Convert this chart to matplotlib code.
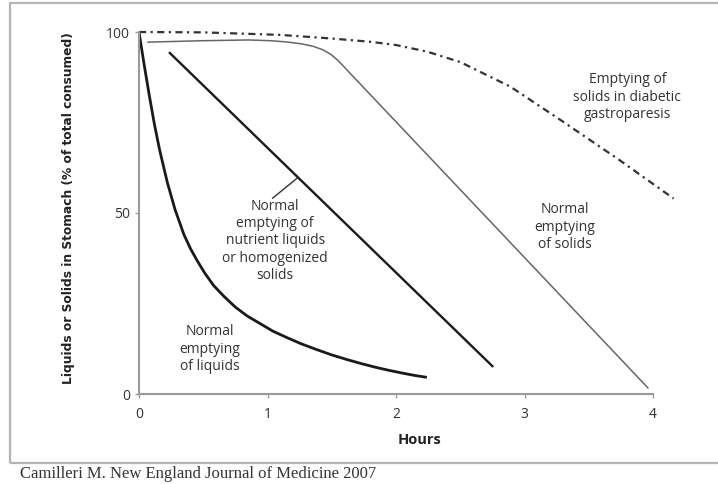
import matplotlib
matplotlib.use("Agg")
import matplotlib.pyplot as plt
from matplotlib.patches import Rectangle

# hours / percent of meal still in the stomach
liq_h = [0, 0.04, 0.08, 0.12, 0.16, 0.22, 0.28, 0.35, 0.40, 0.45, 0.51, 0.58, 0.66, 0.75, 0.84,
         0.94, 1.04, 1.15, 1.26, 1.38, 1.50, 1.62, 1.73, 1.85, 1.95, 2.06, 2.15, 2.24]
liq_y = [100, 91, 82.5, 74.5, 67.5, 58.5, 51, 44, 40.2, 37, 33.5, 30, 27, 24, 21.6,
         19.5, 17.4, 15.6, 13.9, 12.3, 10.8, 9.5, 8.4, 7.3, 6.5, 5.7, 5.1, 4.6]

nutr_h = [0.24, 2.75]
nutr_y = [94.2, 7.7]

sol_h = [0.07, 0.5, 0.85, 1.02, 1.15, 1.27, 1.36, 1.43, 1.49, 1.54, 1.59, 1.64, 3.96]
sol_y = [97.2, 97.6, 97.8, 97.6, 97.25, 96.7, 96.0, 95.1, 93.9, 92.4, 90.6, 88.7, 1.7]

diab_h = [0, 0.5, 1.1, 1.5, 1.8, 2.0, 2.24, 2.5, 2.89, 3.28, 3.74, 4.16]
diab_y = [100, 99.9, 99.2, 98.2, 97.3, 96.4, 94.6, 91.7, 84.9, 75.7, 64.6, 54.0]

xticks = [0, 1, 2, 3, 4]
yticks = [0, 50, 100]

W, H = 718, 484
fig = plt.figure(figsize=(W / 100, H / 100), dpi=100)

# grey frame around the panel
fig.patches.append(Rectangle((10 / W, 1 - 463 / H), 720 / W, 460 / H, transform=fig.transFigure,
                             fill=False, edgecolor="#b5b5b5", linewidth=1.6))

x0, x4 = 139, 653
y0, y100 = 394, 32
ppx = (x4 - x0) / 4
ppy = (y0 - y100) / 100
left, right, top = 139, 700, 22
ax = fig.add_axes([left / W, 1 - y0 / H, (right - left) / W, (y0 - top) / H])
ax.set_xlim(0, (right - left) / ppx)
ax.set_ylim(0, (y0 - top) / ppy)

gill = ["Open Sans", "DejaVu Sans"]
txt = "#333333"

ax.plot(liq_h, liq_y, color="#1a1a1a", lw=2.0, solid_capstyle="butt", solid_joinstyle="round")
ax.plot(nutr_h, nutr_y, color="#1a1a1a", lw=1.7)
ax.plot(sol_h, sol_y, color="#666666", lw=1.1, solid_joinstyle="round")
ax.plot(diab_h, diab_y, color="#333333", lw=1.6, dashes=[3.2, 2.0, 1.0, 2.0])

# leader line to the nutrient label
ax.plot([1.04, 1.23], [54.1, 59.6], color="#333333", lw=1.0)

for s in ["top", "right"]:
    ax.spines[s].set_visible(False)
ax.spines["left"].set_bounds(0, 100)
ax.spines["bottom"].set_bounds(0, 4)
for s in ["left", "bottom"]:
    ax.spines[s].set_color("#9a9a9a")
    ax.spines[s].set_linewidth(1.5)
ax.set_xticks(xticks)
ax.set_yticks(yticks)
ax.tick_params(colors="#9a9a9a", length=3, width=1, labelcolor=txt, labelsize=10)
ax.tick_params(axis="x", pad=6)
for lab in ax.get_xticklabels() + ax.get_yticklabels():
    lab.set_family(gill)

ax.set_xlabel("Hours", fontsize=10.5, fontweight="bold", family=gill, color="#222222", labelpad=8)
ax.set_ylabel("Liquids or Solids in Stomach (% of total consumed)", fontsize=8.8, fontweight="bold",
              family=["DejaVu Sans Condensed", "DejaVu Sans"], color="#222222", labelpad=22)

kw = dict(ha="center", va="center", fontsize=10, family=gill, color=txt, linespacing=1.2)
ax.text(3.80, 82.0, "Emptying of\nsolids in diabetic\ngastroparesis", **kw)
ax.text(3.315, 46.1, "Normal\nemptying\nof solids", **kw)
ax.text(1.06, 42.3, "Normal\nemptying of\nnutrient liquids\nor homogenized\nsolids", **kw)
ax.text(0.55, 12.4, "Normal\nemptying\nof liquids", **kw)

fig.text(20 / W, 1 - 474 / H, "Camilleri M. New England Journal of Medicine 2007", ha="left", va="center",
         fontsize=12, family=["Liberation Serif", "DejaVu Serif"], color="#333333")

fig.savefig("out.png", dpi=100)
